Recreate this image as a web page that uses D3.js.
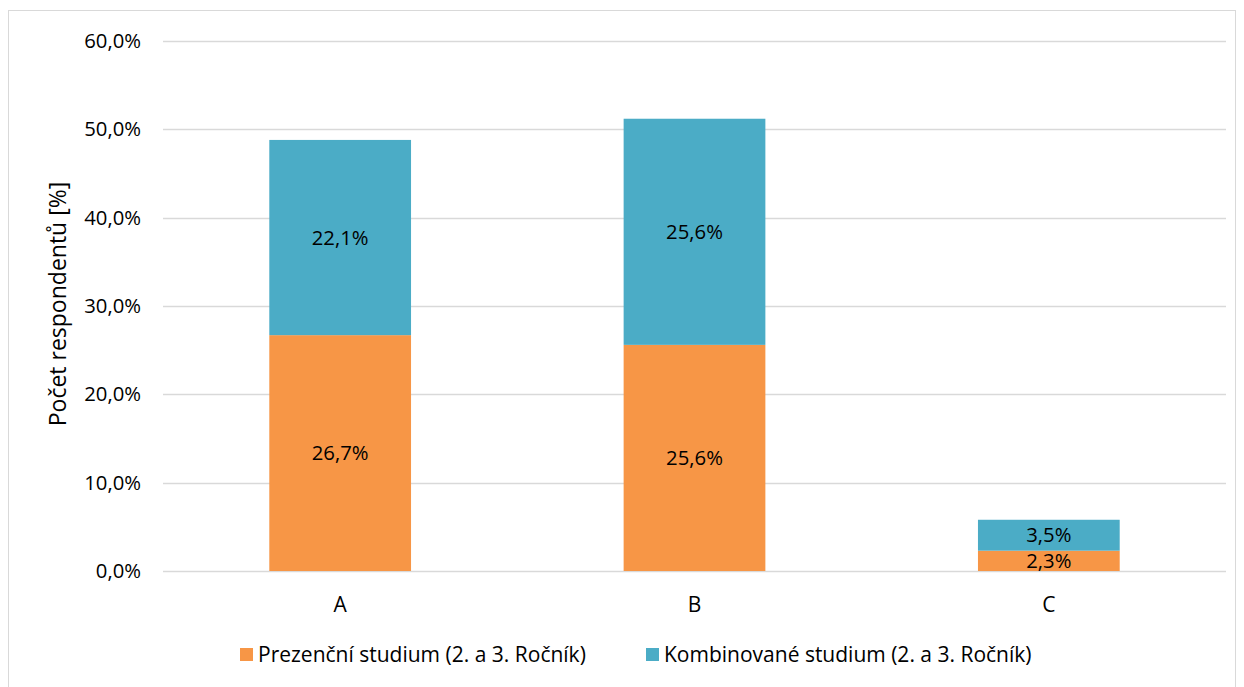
<!DOCTYPE html>
<html><head><meta charset="utf-8">
<script src="https://cdn.jsdelivr.net/npm/d3@7"></script>
<style>body{margin:0;background:#fff}svg{display:block;font-family:"Open Sans",sans-serif}</style>
</head><body>
<svg id="c" width="1244" height="687"></svg>
<script>
const categories = ["A", "B", "C"];
const prezencni = [26.7, 25.6, 2.3];
const kombinovane = [22.1, 25.6, 3.5];
const seriesNames = ["Prezenční studium (2. a 3. Ročník)", "Kombinované studium (2. a 3. Ročník)"];
const colors = ["#F79646", "#4BACC6"];
const yTicks = [0, 10, 20, 30, 40, 50, 60];

(function () {
const svg = d3.select("#c");
svg.append("rect").attr("x", 8.5).attr("y", 10.5).attr("width", 1227).attr("height", 700)
  .attr("fill", "#fff").attr("stroke", "#d9d9d9");

const pl = 163, pr = 1226, pt = 41, pb = 571;
const x = d3.scaleBand().domain(categories).range([pl, pr]).padding(0);
const y = d3.scaleLinear().domain([0, 60]).range([pb, pt]);
const barW = x.bandwidth() * 0.4;
const fmt = v => d3.format(".1f")(v).replace(".", ",") + "%";

// grid
svg.append("g").selectAll("line").data(yTicks).join("line")
  .attr("x1", pl).attr("x2", pr)
  .attr("y1", d => Math.round(y(d)) + 0.5).attr("y2", d => Math.round(y(d)) + 0.5)
  .attr("stroke", "#d9d9d9").attr("stroke-width", 1.3);

// y labels
svg.append("g").selectAll("text").data(yTicks).join("text")
  .attr("x", 141).attr("y", d => y(d)).attr("dy", "0.35em").attr("text-anchor", "end")
  .attr("font-size", 20.3).attr("fill", "#000").text(d => fmt(d));

// stacks
const rows = categories.map((c, i) => ({cat: c, p: prezencni[i], k: kombinovane[i]}));
const stack = d3.stack().keys(["p", "k"])(rows);
stack.forEach((layer, li) => {
  const g = svg.append("g");
  g.selectAll("rect").data(layer).join("rect")
    .attr("x", d => x(d.data.cat) + x.bandwidth() / 2 - barW / 2)
    .attr("width", barW)
    .attr("y", d => y(d[1])).attr("height", d => y(d[0]) - y(d[1]))
    .attr("fill", colors[li]);
  g.selectAll("text").data(layer).join("text")
    .attr("x", d => x(d.data.cat) + x.bandwidth() / 2)
    .attr("y", d => (y(d[0]) + y(d[1])) / 2).attr("dy", "0.35em")
    .attr("text-anchor", "middle").attr("font-size", 20.3).attr("fill", "#000")
    .text(d => fmt(d[1] - d[0]));
});

// x labels
svg.append("g").selectAll("text").data(categories).join("text")
  .attr("x", d => x(d) + x.bandwidth() / 2).attr("y", 605).attr("dy", "0.35em")
  .attr("text-anchor", "middle").attr("font-size", 21).attr("fill", "#000").text(d => d);

// y title
svg.append("text").attr("transform", "translate(58,304) rotate(-90)")
  .attr("text-anchor", "middle").attr("dy", "0.35em").attr("font-size", 23).attr("fill", "#000")
  .text("Počet respondentů [%]");

// legend
const legX = [240, 646];
seriesNames.forEach((n, i) => {
  svg.append("rect").attr("x", legX[i]).attr("y", 648).attr("width", 13).attr("height", 13).attr("fill", colors[i]);
  svg.append("text").attr("x", legX[i] + 18).attr("y", 655).attr("dy", "0.35em")
    .attr("font-size", 21).attr("fill", "#000").text(n);
});
})();
</script>
</body></html>
